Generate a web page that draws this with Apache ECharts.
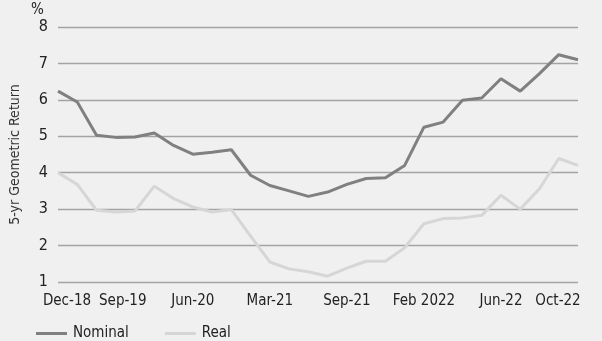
<!DOCTYPE html>
<html><head><meta charset="utf-8">
<script src="https://cdn.jsdelivr.net/npm/echarts@6/dist/echarts.min.js"></script>
<style>html,body{margin:0;padding:0;background:#f0f0f0}#c{width:602px;height:341px}</style>
</head><body><div id="c"></div>
<script>
const categories = ['Dec-18','','','Sep-19','','','','Jun-20','','','','Mar-21','','','','Sep-21','','','','Feb 2022','','','','Jun-22','','','','Oct-22'];
const nominal = [6.24,5.94,5.03,4.97,4.98,5.09,4.75,4.51,4.56,4.63,3.93,3.65,3.50,3.35,3.47,3.68,3.84,3.86,4.20,5.25,5.39,5.99,6.05,6.58,6.24,6.72,7.24,7.10];
const real = [4.00,3.68,2.97,2.92,2.95,3.63,3.29,3.06,2.92,2.99,2.26,1.55,1.36,1.28,1.16,1.38,1.57,1.57,1.94,2.60,2.74,2.76,2.83,3.38,3.00,3.56,4.39,4.20];
const yTicks = [1,2,3,4,5,6,7,8];
const FONT = '"Liberation Sans Narrow","DejaVu Sans Condensed",sans-serif';
const chart = echarts.init(document.getElementById('c'));
const firstIdx = 0, lastIdx = categories.length - 1;
chart.setOption({
  backgroundColor: '#f0f0f0',
  animation: false,
  grid: {left: 53, right: 24, top: 27, bottom: 59},
  graphic: [{type: 'text', left: 31, top: 3, style: {text: '%', font: '15px ' + FONT, fill: '#222'}}],
  legend: {
    left: 31, top: 321, icon: 'rect', itemWidth: 31, itemHeight: 3, itemGap: 36,
    textStyle: {fontFamily: FONT, fontSize: 15, color: '#222', padding: [0,0,0,1]},
    data: ['Nominal', 'Real']
  },
  xAxis: {
    type: 'category', data: categories, boundaryGap: false,
    axisLine: {show: false}, axisTick: {show: false},
    axisLabel: {
      interval: (i, v) => v !== '', margin: 12, color: '#222', fontFamily: FONT, fontSize: 15,
      formatter: (v, i) => i === firstIdx ? '{a|' + v + '}' : (i === lastIdx ? '{b|' + v + '}' : (i === 3 ? '{c|' + v + '}' : v)),
      rich: {
        a: {fontFamily: FONT, fontSize: 15, color: '#222', padding: [0,0,0,18]},
        b: {fontFamily: FONT, fontSize: 15, color: '#222', padding: [0,40,0,0]},
        c: {fontFamily: FONT, fontSize: 15, color: '#222', padding: [0,0,0,14]}
      }
    }
  },
  yAxis: {
    type: 'value', min: yTicks[0], max: yTicks[yTicks.length - 1], interval: 1,
    name: '5-yr Geometric Return', nameLocation: 'middle', nameRotate: 90, nameGap: 36,
    nameTextStyle: {fontFamily: FONT, fontSize: 14, color: '#333'},
    axisLine: {show: false}, axisTick: {show: false},
    axisLabel: {margin: 10, color: '#222', fontFamily: FONT, fontSize: 16},
    splitLine: {lineStyle: {color: '#a3a3a3', width: 1.3}}
  },
  series: [
    {name: 'Nominal', type: 'line', data: nominal, symbol: 'none', color: '#808080', lineStyle: {width: 3, color: '#808080'}},
    {name: 'Real', type: 'line', data: real, symbol: 'none', color: '#d6d6d6', lineStyle: {width: 3, color: '#d6d6d6'}}
  ]
});
</script></body></html>
